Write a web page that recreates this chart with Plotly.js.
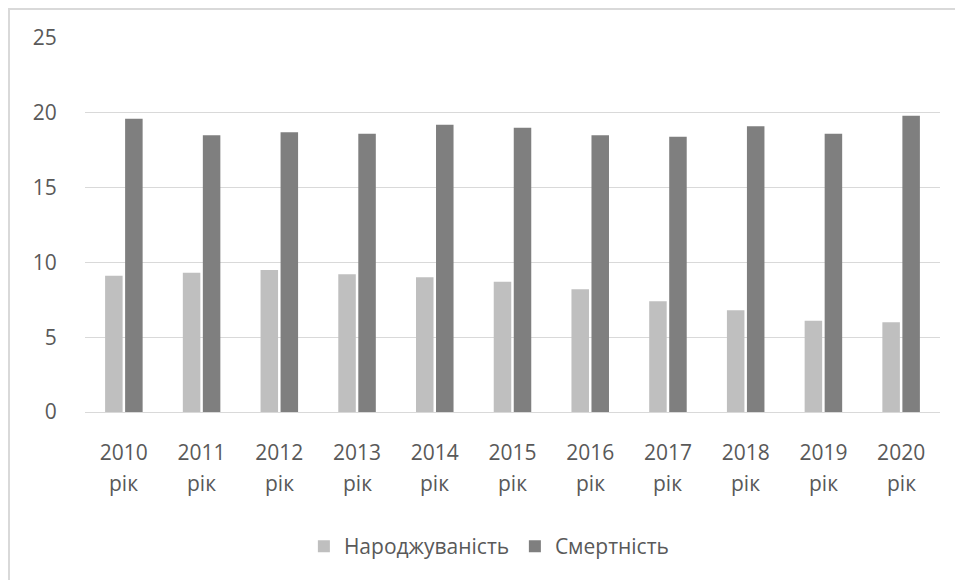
<!DOCTYPE html>
<html>
<head>
<meta charset="utf-8">
<script src="https://cdn.plot.ly/plotly-3.0.1.min.js"></script>
<style>
html,body{margin:0;padding:0;background:#fff;}
#frame{position:absolute;left:8px;top:8px;width:1000px;height:1000px;border-left:2px solid #d9d9d9;border-top:2px solid #d9d9d9;box-sizing:border-box;}
#chart{position:absolute;left:0;top:0;width:955px;height:580px;}
</style>
</head>
<body>
<div id="frame"></div>
<div id="chart"></div>
<script>
const categories = ["2010","2011","2012","2013","2014","2015","2016","2017","2018","2019","2020"];
const yearSuffix = "рік";
const birthRate = [9.1, 9.3, 9.5, 9.2, 9.0, 8.7, 8.2, 7.4, 6.8, 6.1, 6.0];
const deathRate = [19.6, 18.5, 18.7, 18.6, 19.2, 19.0, 18.5, 18.4, 19.1, 18.6, 19.8];
const yTicks = [0, 5, 10, 15, 20, 25];

const fontFam = '"Open Sans", "Liberation Sans", sans-serif';
const txtColor = '#595959';
const data = [
  {type:'bar', name:'Народжуваність', x:categories, y:birthRate, marker:{color:'#bfbfbf'}, hoverinfo:'y'},
  {type:'bar', name:'Смертність', x:categories, y:deathRate, marker:{color:'#7f7f7f'}, hoverinfo:'y'}
];
const annotations = categories.map((c, i) => ({
  x:i, xref:'x', y:0, yref:'y', yshift:-71, yanchor:'middle', xanchor:'center',
  text:yearSuffix, showarrow:false, font:{family:fontFam, size:21, color:txtColor}
}));
const layout = {
  width:955, height:580,
  paper_bgcolor:'rgba(0,0,0,0)', plot_bgcolor:'rgba(0,0,0,0)',
  margin:{l:85, r:15, t:37.5, b:167.7},
  barmode:'group', bargap:0.485, bargroupgap:0.125,
  font:{family:fontFam, size:21, color:txtColor},
  xaxis:{type:'category', range:[-0.5, categories.length - 0.5], autorange:false,
         showgrid:false, showline:false, zeroline:false,
         ticks:'outside', ticklen:22, tickcolor:'rgba(0,0,0,0)',
         tickfont:{family:fontFam, size:21, color:txtColor}},
  yaxis:{range:[0,25], tickvals:yTicks, ticktext:yTicks.map(String),
         showgrid:true, gridcolor:'#d9d9d9', gridwidth:1,
         zeroline:true, zerolinecolor:'#d9d9d9', zerolinewidth:1, showline:false,
         ticks:'outside', ticklen:23, tickcolor:'rgba(0,0,0,0)',
         tickfont:{family:fontFam, size:21, color:txtColor}},
  annotations:annotations,
  showlegend:true,
  legend:{orientation:'h', x:0.256, xanchor:'left', y:-0.36, yanchor:'middle',
          font:{family:fontFam, size:21, color:txtColor}, itemwidth:30,
          entrywidth:166, entrywidthmode:'pixels', traceorder:'normal'}
};
Plotly.newPlot('chart', data, layout, {displayModeBar:false, staticPlot:true});
</script>
</body>
</html>
